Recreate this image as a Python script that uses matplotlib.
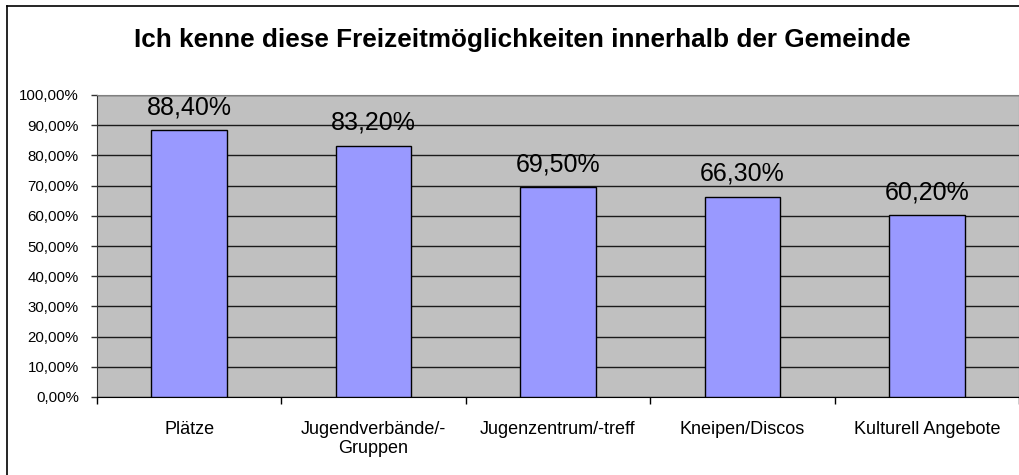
import matplotlib.pyplot as plt
import matplotlib.ticker as mtick
from matplotlib.lines import Line2D

categories = ["Plätze", "Jugendverbände/-\nGruppen", "Jugenzentrum/-treff",
              "Kneipen/Discos", "Kulturell Angebote"]
values = [88.4, 83.2, 69.5, 66.3, 60.2]
title = "Ich kenne diese Freizeitmöglichkeiten innerhalb der Gemeinde"

plt.rcParams["font.family"] = ["Liberation Sans", "DejaVu Sans"]

W, H = 1020, 475
fig = plt.figure(figsize=(W / 100, H / 100), dpi=100)
ax = fig.add_axes([97 / W, 1 - 397 / H, 922 / W, 302 / H])

ax.set_facecolor("#c0c0c0")
x = range(len(categories))
ax.bar(x, values, width=0.41, color="#9999ff", edgecolor="black",
       linewidth=1, zorder=3)

# data labels above the bars
for xi, v in zip(x, values):
    ax.annotate(f"{v:.2f}%".replace(".", ","), (xi, v), xytext=(0, 16),
                textcoords="offset pixels", ha="center", va="baseline",
                fontsize=18, color="black", zorder=4)

ax.set_xlim(-0.5, len(categories) - 0.5)
ax.set_ylim(0, 100)
ax.yaxis.set_major_locator(mtick.MultipleLocator(10))
ax.yaxis.set_major_formatter(
    mtick.FuncFormatter(lambda y, _: f"{y:.2f}%".replace(".", ","))
)
ax.grid(axis="y", color="#1a1a1a", linewidth=1, zorder=1)
ax.set_axisbelow(True)

ax.set_xticks(list(x))
ax.set_xticklabels(categories, fontsize=13, linespacing=1.15)
ax.set_xticks([i + 0.5 for i in range(-1, len(categories))], minor=True)
ax.tick_params(axis="x", which="major", length=0, pad=17)
ax.tick_params(axis="x", which="minor", length=5, width=1, color="black",
               direction="out")
ax.tick_params(axis="y", length=4, width=1, pad=9, labelsize=10.8,
               direction="out", color="#333333")

for side in ["top", "right"]:
    ax.spines[side].set_color("#808080")
ax.spines["left"].set_color("#333333")
ax.spines["bottom"].set_color("black")

fig.text(522 / W, 1 - 47 / H, title, ha="center", va="baseline",
         fontsize=18.8, fontweight="bold")

# outer chart border (left and top edges visible)
fig.add_artist(Line2D([7.5 / W, 7.5 / W], [0, 1 - 5.5 / H], color="black",
                      linewidth=1.2))
fig.add_artist(Line2D([7.5 / W, 1], [1 - 5.5 / H, 1 - 5.5 / H],
                      color="black", linewidth=1.2))

fig.savefig("out.png", dpi=100)
